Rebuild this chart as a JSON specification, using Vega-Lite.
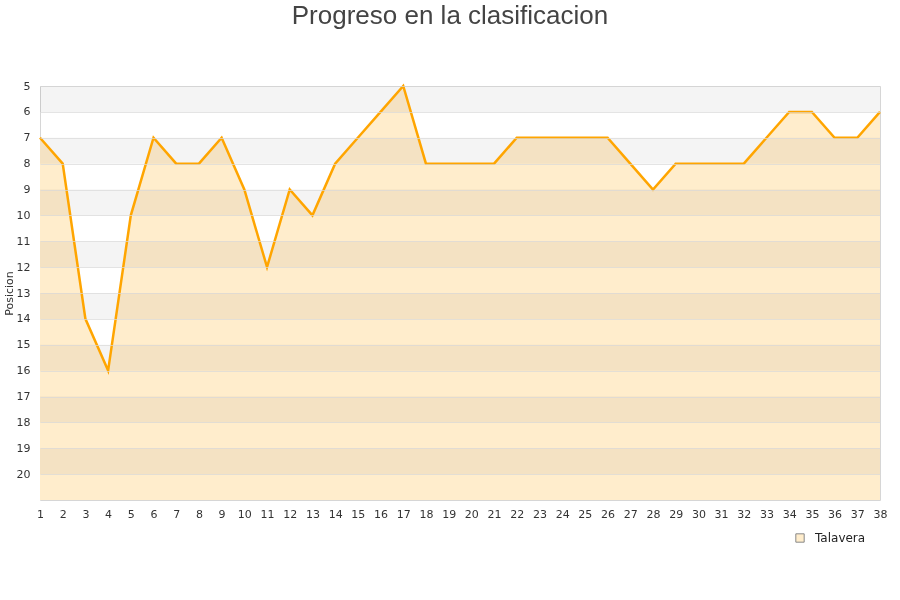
{
  "$schema": "https://vega.github.io/schema/vega-lite/v6.json",
  "width": 840,
  "height": 414,
  "autosize": {"type": "none"},
  "padding": {"left": 40, "top": 86, "right": 20, "bottom": 100},
  "background": "white",
  "title": {"text": "Progreso en la clasificacion", "fontSize": 26, "font": "Liberation Sans", "fontWeight": "normal", "color": "#444444", "anchor": "middle", "dx": -10, "offset": 51},
  "config": {"view": {"stroke": "#d6d6d6", "strokeWidth": 1}, "font": "DejaVu Sans"},
  "datasets": {
    "posiciones": [
      {"jornada": 1, "posicion": 7, "equipo": "Talavera"},
      {"jornada": 2, "posicion": 8, "equipo": "Talavera"},
      {"jornada": 3, "posicion": 14, "equipo": "Talavera"},
      {"jornada": 4, "posicion": 16, "equipo": "Talavera"},
      {"jornada": 5, "posicion": 10, "equipo": "Talavera"},
      {"jornada": 6, "posicion": 7, "equipo": "Talavera"},
      {"jornada": 7, "posicion": 8, "equipo": "Talavera"},
      {"jornada": 8, "posicion": 8, "equipo": "Talavera"},
      {"jornada": 9, "posicion": 7, "equipo": "Talavera"},
      {"jornada": 10, "posicion": 9, "equipo": "Talavera"},
      {"jornada": 11, "posicion": 12, "equipo": "Talavera"},
      {"jornada": 12, "posicion": 9, "equipo": "Talavera"},
      {"jornada": 13, "posicion": 10, "equipo": "Talavera"},
      {"jornada": 14, "posicion": 8, "equipo": "Talavera"},
      {"jornada": 15, "posicion": 7, "equipo": "Talavera"},
      {"jornada": 16, "posicion": 6, "equipo": "Talavera"},
      {"jornada": 17, "posicion": 5, "equipo": "Talavera"},
      {"jornada": 18, "posicion": 8, "equipo": "Talavera"},
      {"jornada": 19, "posicion": 8, "equipo": "Talavera"},
      {"jornada": 20, "posicion": 8, "equipo": "Talavera"},
      {"jornada": 21, "posicion": 8, "equipo": "Talavera"},
      {"jornada": 22, "posicion": 7, "equipo": "Talavera"},
      {"jornada": 23, "posicion": 7, "equipo": "Talavera"},
      {"jornada": 24, "posicion": 7, "equipo": "Talavera"},
      {"jornada": 25, "posicion": 7, "equipo": "Talavera"},
      {"jornada": 26, "posicion": 7, "equipo": "Talavera"},
      {"jornada": 27, "posicion": 8, "equipo": "Talavera"},
      {"jornada": 28, "posicion": 9, "equipo": "Talavera"},
      {"jornada": 29, "posicion": 8, "equipo": "Talavera"},
      {"jornada": 30, "posicion": 8, "equipo": "Talavera"},
      {"jornada": 31, "posicion": 8, "equipo": "Talavera"},
      {"jornada": 32, "posicion": 8, "equipo": "Talavera"},
      {"jornada": 33, "posicion": 7, "equipo": "Talavera"},
      {"jornada": 34, "posicion": 6, "equipo": "Talavera"},
      {"jornada": 35, "posicion": 6, "equipo": "Talavera"},
      {"jornada": 36, "posicion": 7, "equipo": "Talavera"},
      {"jornada": 37, "posicion": 7, "equipo": "Talavera"},
      {"jornada": 38, "posicion": 6, "equipo": "Talavera"}
    ],
    "bandas": [
      {"desde": 5, "hasta": 6}, {"desde": 7, "hasta": 8}, {"desde": 9, "hasta": 10},
      {"desde": 11, "hasta": 12}, {"desde": 13, "hasta": 14}, {"desde": 15, "hasta": 16},
      {"desde": 17, "hasta": 18}, {"desde": 19, "hasta": 20}
    ]
  },
  "encoding": {
    "x": {"type": "quantitative", "scale": {"domain": [1, 38], "nice": false, "zero": false},
      "axis": {"title": null, "values": [1,2,3,4,5,6,7,8,9,10,11,12,13,14,15,16,17,18,19,20,21,22,23,24,25,26,27,28,29,30,31,32,33,34,35,36,37,38], "grid": false, "domain": false, "ticks": false, "labelPadding": 8, "labelFontSize": 11, "labelColor": "#333333", "labelFlush": false, "labelOverlap": false}},
    "y": {
      "type": "quantitative",
      "scale": {"domain": [5, 21], "reverse": true, "nice": false, "zero": false},
      "axis": {"title": "Posicion", "values": [5,6,7,8,9,10,11,12,13,14,15,16,17,18,19,20], "grid": true, "gridColor": "#d9d9d9", "gridOpacity": 0.7, "zindex": 1, "domain": false, "ticks": false, "labelPadding": 10, "labelFontSize": 11, "labelColor": "#333333", "titleFontSize": 11, "titleFontWeight": "normal", "titleColor": "#333333", "titlePadding": 2}
    }
  },
  "layer": [
    {
      "data": {"name": "posiciones"},
      "mark": {"type": "area", "opacity": 1},
      "encoding": {
        "x": {"field": "jornada"},
        "y": {"field": "posicion"},
        "y2": {"datum": 21},
        "fill": {"field": "equipo", "type": "nominal", "scale": {"range": ["#ffedcc"]},
          "legend": {"title": null, "orient": "none", "legendX": 754, "legendY": 446, "symbolType": "square", "symbolSize": 70, "symbolStrokeColor": "#888888", "symbolStrokeWidth": 1, "symbolOpacity": 1, "labelFontSize": 12, "labelColor": "#222222", "labelOffset": 9}}
      }
    },
    {
      "data": {"name": "bandas"},
      "mark": {"type": "rect", "color": "#f4f4f4", "blend": "multiply"},
      "encoding": {
        "y": {"field": "desde"},
        "y2": {"field": "hasta"},
        "x": {"datum": 1},
        "x2": {"datum": 38}
      }
    },
    {
      "data": {"name": "posiciones"},
      "mark": {"type": "line", "color": "#ffa500", "strokeWidth": 2.5},
      "encoding": {
        "x": {"field": "jornada"},
        "y": {"field": "posicion"}
      }
    }
  ]
}
